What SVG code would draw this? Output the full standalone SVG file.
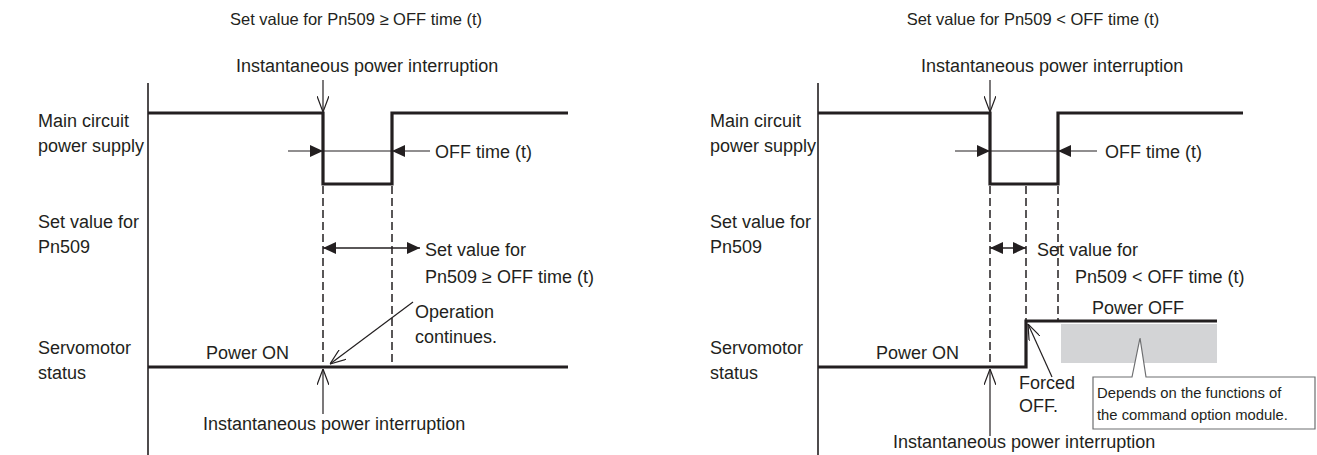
<svg xmlns="http://www.w3.org/2000/svg" width="1317" height="455" viewBox="0 0 1317 455">
<style>
text{font-family:"Liberation Sans",Arial,sans-serif;font-size:18px;fill:#231f20}
.t{font-size:16.5px}
.s{font-size:14.8px}
.w{fill:none;stroke:#231f20;stroke-width:3.2;stroke-linejoin:miter}
.ax{fill:none;stroke:#231f20;stroke-width:1.6}
.th{fill:none;stroke:#231f20;stroke-width:1.2}
.ds{fill:none;stroke:#231f20;stroke-width:1.5;stroke-dasharray:8 4}
.oa{fill:none;stroke:#231f20;stroke-width:1.2;marker-end:url(#open)}
.fa{fill:none;stroke:#231f20;stroke-width:1.2;marker-end:url(#fill)}
.da{fill:none;stroke:#231f20;stroke-width:1.4;marker-start:url(#fillS);marker-end:url(#fill)}
</style>
<defs>
<marker id="open" viewBox="0 0 16 12" refX="16" refY="6" markerWidth="16" markerHeight="12" markerUnits="userSpaceOnUse" orient="auto"><path d="M0,0 L16,6 L0,12" fill="none" stroke="#231f20" stroke-width="1.2"/></marker>
<marker id="fill" viewBox="0 0 13 12" refX="13" refY="6" markerWidth="13" markerHeight="12" markerUnits="userSpaceOnUse" orient="auto"><path d="M0,0 L13,6 L0,12 Z" fill="#231f20"/></marker>
<marker id="fillS" viewBox="0 0 13 12" refX="0" refY="6" markerWidth="13" markerHeight="12" markerUnits="userSpaceOnUse" orient="auto"><path d="M13,0 L0,6 L13,12 Z" fill="#231f20"/></marker>
</defs>

<g id="left-panel">
<text class="t" x="356" y="25" text-anchor="middle">Set value for Pn509 ≥ OFF time (t)</text>
<text x="236" y="72">Instantaneous power interruption</text>
<text x="38" y="127">Main circuit</text>
<text x="38" y="152">power supply</text>
<text x="38" y="228">Set value for</text>
<text x="38" y="253">Pn509</text>
<text x="38" y="354">Servomotor</text>
<text x="38" y="379">status</text>
<line class="ax" x1="148" y1="83" x2="148" y2="455"/>
<polyline class="w" points="148,113 323,113 323,184 392,184 392,113 568,113"/>
<polyline class="w" points="148,367 568,367"/>
<text x="435" y="158">OFF time (t)</text>
<text x="425" y="256">Set value for</text>
<text x="425" y="283">Pn509 ≥ OFF time (t)</text>
<text x="415" y="318">Operation</text>
<text x="415" y="343">continues.</text>
<text x="206" y="359">Power ON</text>
<text x="203" y="430">Instantaneous power interruption</text>
</g>

<g id="right-panel">
<text class="t" x="1033" y="25" text-anchor="middle">Set value for Pn509 &lt; OFF time (t)</text>
<text x="921" y="72">Instantaneous power interruption</text>
<text x="710" y="127">Main circuit</text>
<text x="710" y="152">power supply</text>
<text x="710" y="228">Set value for</text>
<text x="710" y="253">Pn509</text>
<text x="710" y="354">Servomotor</text>
<text x="710" y="379">status</text>
<line class="ax" x1="818" y1="83" x2="818" y2="455"/>
<rect x="1061" y="324" width="156" height="39" fill="#d3d4d6"/>
<polyline class="w" points="818,113 990,113 990,184 1058,184 1058,113 1243,113"/>
<polyline class="w" points="818,367 1026,367 1026,321 1217,321"/>
<text x="1105" y="158">OFF time (t)</text>
<text x="1037" y="256">Set value for</text>
<text x="1075" y="283">Pn509 &lt; OFF time (t)</text>
<text x="1092" y="314">Power OFF</text>
<text x="876" y="359">Power ON</text>
<text x="1019" y="389">Forced</text>
<text x="1019" y="412">OFF.</text>
<text x="893" y="448">Instantaneous power interruption</text>
</g>

<g id="callout">
<path d="M1093,377 H1132 L1140,338 L1146,377 H1315 V429 H1093 Z" fill="#fff" stroke="#6d6e70" stroke-width="1.2"/>
<text class="s" x="1097" y="398">Depends on the functions of</text>
<text class="s" x="1097" y="420">the command option module.</text>
</g>

<g id="connectors">
<line class="oa" x1="323" y1="80" x2="323" y2="112"/>
<line class="fa" x1="288" y1="151" x2="323" y2="151"/>
<line class="th" x1="323" y1="151" x2="392" y2="151"/>
<line class="fa" x1="430" y1="151" x2="392" y2="151"/>
<line class="ds" x1="323" y1="186" x2="323" y2="366"/>
<line class="ds" x1="392" y1="186" x2="392" y2="366"/>
<line class="da" x1="323" y1="248" x2="420" y2="248"/>
<line class="oa" x1="413" y1="302" x2="330" y2="364"/>
<line class="oa" x1="323" y1="414" x2="323" y2="369"/>

<line class="oa" x1="990" y1="80" x2="990" y2="112"/>
<line class="fa" x1="955" y1="151" x2="990" y2="151"/>
<line class="th" x1="990" y1="151" x2="1058" y2="151"/>
<line class="fa" x1="1097" y1="151" x2="1058" y2="151"/>
<line class="ds" x1="990" y1="186" x2="990" y2="366"/>
<line class="ds" x1="1026" y1="186" x2="1026" y2="321"/>
<line class="ds" x1="1058" y1="186" x2="1058" y2="321"/>
<line class="da" x1="990" y1="248" x2="1026" y2="248"/>
<line class="oa" x1="1052" y1="377" x2="1028" y2="324"/>
<line class="oa" x1="990" y1="436" x2="990" y2="369"/>
</g>
</svg>
